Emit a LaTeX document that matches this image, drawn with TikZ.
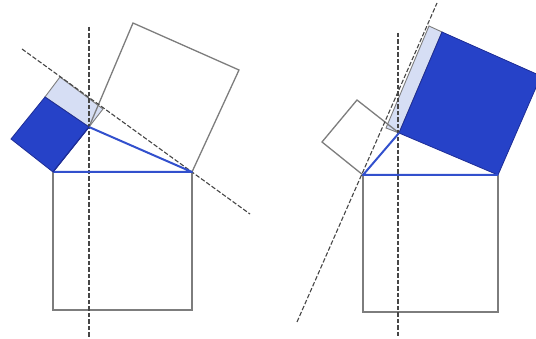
\documentclass[tikz,border=0pt]{standalone}
\usetikzlibrary{calc}
\definecolor{sqgray}{RGB}{125,125,125}
\definecolor{dashgray}{RGB}{70,70,70}
\definecolor{darkblue}{RGB}{38,66,200}
\definecolor{edgeblue}{RGB}{30,45,150}
\definecolor{lightblue}{RGB}{214,222,244}
\definecolor{lineblue}{RGB}{50,80,205}
\tikzset{
  sq/.style={draw=sqgray, line width=1.3pt, line join=miter},
  fillsq/.style={fill=darkblue, draw=edgeblue, line width=0.8pt},
  lightsq/.style={fill=lightblue, draw=sqgray, line width=0.9pt},
  aux/.style={draw=dashgray, line width=1.1pt, dash pattern=on 4.5pt off 2pt},
  tri/.style={draw=lineblue, line width=2pt, line join=round}
}
\begin{document}
\begin{tikzpicture}[x=1pt,y=-1pt]
\useasboundingbox (0,0) rectangle (536,339);
% ---------- left figure ----------
\coordinate (LA) at (53,172);
\coordinate (LB) at (192,172);
\coordinate (LC) at (89,127);
\coordinate (LQ1) at (53,310);
\coordinate (LQ2) at (192,310);
\coordinate (LH1) at (239,70);
\coordinate (LH2) at (133,23);
\coordinate (LD1) at (45,97);
\coordinate (LD2) at (11,139);
\coordinate (LE1) at (60,77);
\coordinate (LE2) at (103,109);
\coordinate (LV1) at (89,27);
\coordinate (LV2) at (89,338);
\coordinate (LS1) at (22,49);
\coordinate (LS2) at (250,214);
% light rectangle and dark square
\path[lightsq] (LD1) -- (LE1) -- (LE2) -- (LC) -- cycle;
\path[fillsq] (LA) -- (LC) -- (LD1) -- (LD2) -- cycle;
% squares
\draw[sq] (LA) -- (LQ1) -- (LQ2) -- (LB);
\draw[sq] (LC) -- (LH2) -- (LH1) -- (LB);
% auxiliary lines
\draw[aux] (LV1) -- (LV2);
\draw[aux] (LS1) -- (LS2);
% triangle
\draw[tri] (LA) -- (LB) -- (LC);
\draw[edgeblue, line width=1.2pt] (LA) -- (LC);
% ---------- right figure ----------
\coordinate (RA) at (363,175);
\coordinate (RB) at (498,175);
\coordinate (RC) at (399,133);
\coordinate (RQ1) at (363,312);
\coordinate (RQ2) at (498,312);
\coordinate (RH1) at (541,76);
\coordinate (RH2) at (442,32);
\coordinate (RS1) at (357,100);
\coordinate (RS2) at (322,142);
\coordinate (RE1) at (386,128);
\coordinate (RE2) at (429,26);
\coordinate (RV1) at (398,33);
\coordinate (RV2) at (398,337);
\coordinate (RL1) at (297,322);
\coordinate (RL2) at (437,3);
% strip and blue square
\path[lightsq] (RC) -- (RE1) -- (RE2) -- (RH2) -- cycle;
\path[fillsq] (RC) -- (RB) -- (RH1) -- (RH2) -- cycle;
% squares
\draw[sq] (RA) -- (RQ1) -- (RQ2) -- (RB);
\draw[sq] (RA) -- (RS2) -- (RS1) -- (RC);
% auxiliary lines
\draw[aux] (RV1) -- (RV2);
\draw[aux] (RL1) -- (RL2);
% triangle
\draw[tri] (RB) -- (RA) -- (RC);
\end{tikzpicture}
\end{document}
